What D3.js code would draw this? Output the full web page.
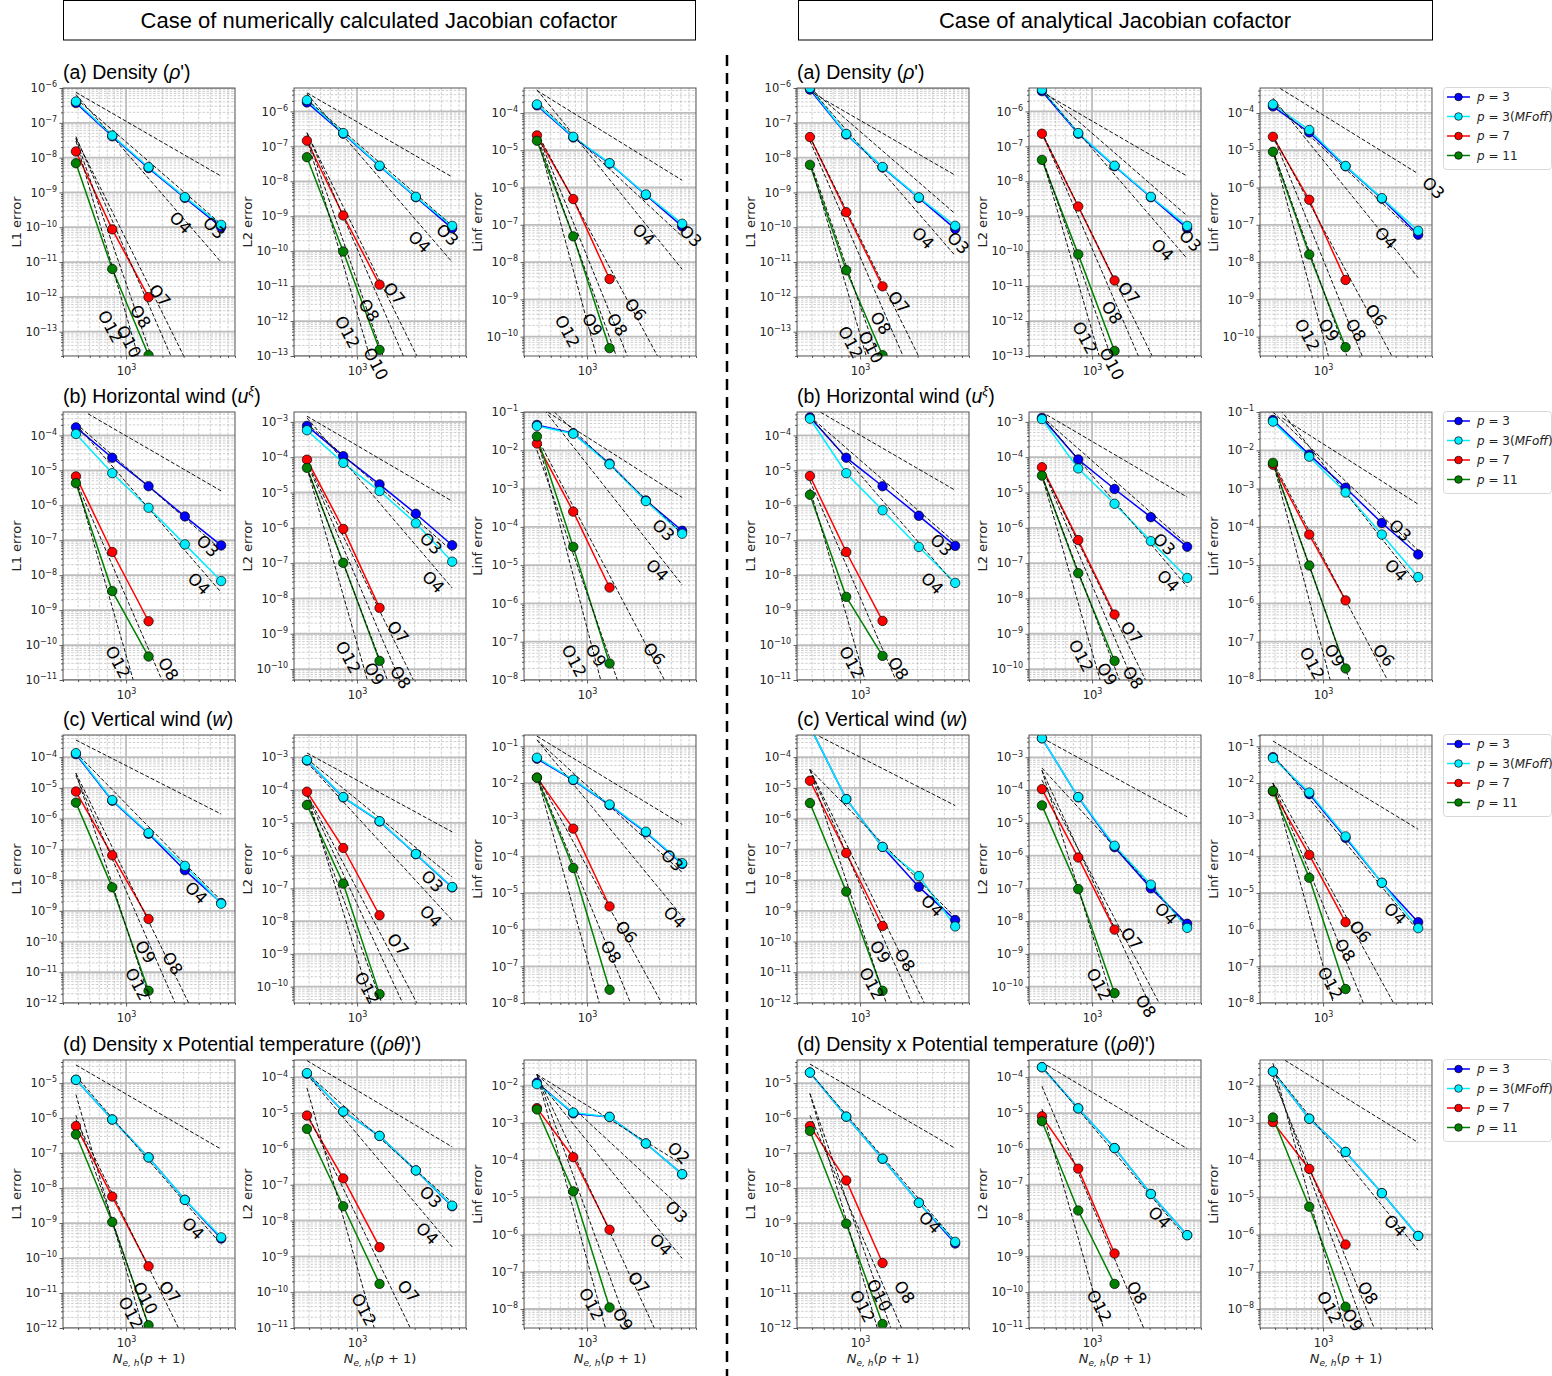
<!DOCTYPE html>
<html>
<head>
<meta charset="utf-8">
<script src="https://cdn.jsdelivr.net/npm/d3@7"></script>
<style>
  body { margin: 0; background: #fff; }
  svg { display: block; }
</style>
</head>
<body>
<script>
// x values: N_e,h (p+1), p=7 and p=11 use the first three
const neh = [384, 768, 1536, 3072, 6144];
const xLimits = [300, 8000];

const caseTitles = ["Case of numerically calculated Jacobian cofactor", "Case of analytical Jacobian cofactor"];
const normNames = ["L1 error", "L2 error", "Linf error"];

// log10 of [bottom, top], rows a-d x norms L1, L2, Linf (same in both cases)
const yLimits = [
  [-13.7, -6], [-13, -5.33], [-10.52, -3.33],
  [-11, -3.33], [-10.31, -2.72], [-8, -1],
  [-12, -3.28], [-10.5, -2.32], [-8, -0.69],
  [-12, -4.34], [-11, -3.52], [-8.51, -1.31]
];

// panel k = case*12 + row*3 + norm
const errP3 = [
  [3.7e-7, 4.1e-8, 5.0e-9, 7.0e-10, 1.0e-10],
  [1.8e-6, 2.3e-7, 2.7e-8, 3.5e-9, 4.5e-10],
  [1.6e-4, 2.2e-5, 4.4e-6, 6.3e-7, 9.1e-8],
  [1.7e-4, 2.3e-5, 3.5e-6, 4.8e-7, 7.1e-8],
  [7.7e-4, 1.07e-4, 1.7e-5, 2.5e-6, 3.2e-7],
  [4.6e-2, 2.8e-2, 4.5e-3, 4.9e-4, 7.9e-5],
  [1.25e-4, 3.8e-6, 3.2e-7, 2.1e-8, 1.8e-9],
  [7.9e-4, 6.0e-5, 1.1e-5, 1.1e-6, 1.07e-7],
  [4.6e-2, 1.2e-2, 2.5e-3, 4.5e-4, 6.2e-5],
  [1.24e-5, 9.1e-7, 7.5e-8, 4.6e-9, 3.6e-10],
  [1.25e-4, 1.1e-5, 2.3e-6, 2.5e-7, 2.5e-8],
  [1.2e-2, 1.8e-3, 1.45e-3, 2.8e-4, 4.2e-5],
  [9.0e-7, 4.6e-8, 5.2e-9, 7.0e-10, 9.0e-11],
  [3.8e-6, 2.3e-7, 2.7e-8, 3.5e-9, 4.5e-10],
  [1.5e-4, 3.0e-5, 3.7e-6, 5.0e-7, 5.4e-8],
  [3.3e-4, 2.3e-5, 3.5e-6, 5.0e-7, 6.9e-8],
  [1.3e-3, 8.6e-5, 1.26e-5, 2.0e-6, 2.9e-7],
  [6.2e-2, 7.7e-3, 1.05e-3, 1.26e-4, 1.9e-5],
  [1.0e-3, 4.3e-6, 1.2e-7, 6.0e-9, 5.0e-10],
  [3.8e-3, 6.0e-5, 1.8e-6, 1.0e-7, 8.3e-9],
  [5.1e-2, 5.0e-3, 3.2e-4, 1.9e-5, 1.6e-6],
  [2.0e-5, 1.1e-6, 6.9e-8, 3.8e-9, 2.6e-10],
  [1.9e-4, 1.35e-5, 1.05e-6, 5.5e-8, 3.9e-9],
  [2.4e-2, 1.3e-3, 1.66e-4, 1.3e-5, 9.2e-7]
];
const errP3MF = [
  [4.1e-7, 4.3e-8, 5.3e-9, 7.3e-10, 1.17e-10],
  [2.1e-6, 2.4e-7, 2.8e-8, 3.6e-9, 5.3e-10],
  [1.7e-4, 2.3e-5, 4.5e-6, 6.5e-7, 1.07e-7],
  [1.1e-4, 8.3e-6, 8.5e-7, 7.6e-8, 6.8e-9],
  [5.8e-4, 6.9e-5, 1.1e-5, 1.35e-6, 1.1e-7],
  [4.3e-2, 2.7e-2, 4.3e-3, 4.7e-4, 6.6e-5],
  [1.35e-4, 4.0e-6, 3.4e-7, 2.9e-8, 1.7e-9],
  [8.2e-4, 6.1e-5, 1.12e-5, 1.12e-6, 1.1e-7],
  [4.9e-2, 1.24e-2, 2.6e-3, 4.7e-4, 6.5e-5],
  [1.24e-5, 9.1e-7, 7.5e-8, 4.6e-9, 3.9e-10],
  [1.3e-4, 1.1e-5, 2.3e-6, 2.5e-7, 2.6e-8],
  [1.1e-2, 1.9e-3, 1.45e-3, 2.8e-4, 4.2e-5],
  [1.0e-6, 4.8e-8, 5.4e-9, 7.2e-10, 1.1e-10],
  [4.2e-6, 2.4e-7, 2.8e-8, 3.6e-9, 5.3e-10],
  [1.7e-4, 3.5e-5, 3.8e-6, 5.2e-7, 6.9e-8],
  [3.0e-4, 8.3e-6, 7.2e-7, 6.4e-8, 6.0e-9],
  [1.2e-3, 4.8e-5, 4.8e-6, 4.2e-7, 3.8e-8],
  [5.6e-2, 6.8e-3, 7.9e-4, 6.3e-5, 4.9e-6],
  [1.0e-3, 4.3e-6, 1.2e-7, 1.35e-8, 3.1e-10],
  [3.8e-3, 6.1e-5, 2.0e-6, 1.3e-7, 6.2e-9],
  [4.8e-2, 5.5e-3, 3.5e-4, 1.9e-5, 1.1e-6],
  [2.0e-5, 1.1e-6, 6.9e-8, 3.8e-9, 2.9e-10],
  [1.9e-4, 1.35e-5, 1.05e-6, 5.5e-8, 3.9e-9],
  [2.4e-2, 1.3e-3, 1.66e-4, 1.3e-5, 9.2e-7]
];
const errP7 = [
  [1.5e-8, 8.7e-11, 9.8e-13], [1.45e-7, 1.05e-9, 1.1e-11], [2.5e-5, 4.9e-7, 3.5e-9],
  [6.7e-6, 4.6e-8, 4.8e-10], [8.5e-5, 9.3e-7, 5.4e-9], [1.5e-2, 2.5e-4, 2.6e-6],
  [7.6e-6, 6.4e-8, 5.4e-10], [8.9e-5, 1.7e-6, 1.5e-8], [1.4e-2, 5.7e-4, 4.3e-6],
  [5.9e-7, 5.7e-9, 5.8e-11], [8.5e-6, 1.5e-7, 1.8e-9], [2.5e-3, 1.2e-4, 1.35e-6],
  [3.9e-8, 2.7e-10, 2.0e-12], [2.3e-7, 1.9e-9, 1.45e-11], [2.3e-5, 4.7e-7, 3.3e-9],
  [6.9e-6, 4.6e-8, 4.9e-10], [5.2e-5, 4.5e-7, 3.5e-9], [4.2e-3, 6.3e-5, 1.2e-6],
  [1.7e-5, 7.6e-8, 3.2e-10], [1.07e-4, 8.7e-7, 5.5e-9], [5.9e-3, 1.1e-4, 1.6e-6],
  [5.9e-7, 1.65e-8, 7.2e-11], [8.1e-6, 2.8e-7, 1.2e-9], [1.05e-3, 5.8e-5, 5.4e-7]
];
const errP11 = [
  [6.9e-9, 6.3e-12, 2.1e-14], [4.9e-8, 9.8e-11, 1.5e-13], [1.8e-5, 4.9e-8, 4.9e-11],
  [4.3e-6, 3.5e-9, 4.7e-11], [5.0e-5, 1.02e-7, 1.7e-10], [2.3e-2, 3.0e-5, 2.7e-8],
  [3.3e-6, 5.8e-9, 2.5e-12], [3.5e-5, 1.4e-7, 5.9e-11], [1.4e-2, 4.8e-5, 2.3e-8],
  [3.4e-7, 1.07e-9, 1.2e-12], [3.6e-6, 2.5e-8, 1.7e-10], [2.3e-3, 1.45e-5, 1.1e-8],
  [6.2e-9, 5.8e-12, 2.1e-14], [4.1e-8, 8.1e-11, 1.4e-13], [9.1e-6, 1.6e-8, 5.2e-11],
  [2.0e-6, 2.4e-9, 4.9e-11], [3.0e-5, 5.2e-8, 1.7e-10], [4.7e-3, 9.8e-6, 2.0e-8],
  [3.2e-6, 4.2e-9, 2.5e-12], [3.4e-5, 9.5e-8, 6.3e-11], [6.1e-3, 2.6e-5, 2.4e-8],
  [4.3e-7, 9.6e-10, 1.3e-12], [5.9e-6, 1.9e-8, 1.7e-10], [1.4e-3, 5.6e-6, 1.15e-8]
];

// order guide lines: [order, value at x=384, optional start x]
const refLines = [
  [[2, 7.5e-7], [3, 5e-7], [4, 6.5e-7], [7, 3.6e-8], [8, 4e-8], [10, 3.5e-8], [12, 3e-8]],
  [[2, 3.4e-6], [3, 2.2e-6], [4, 3.2e-6], [7, 2.4e-7], [8, 2.5e-7], [10, 2e-7], [12, 1.7e-7]],
  [[2, 4e-4], [3, 2e-4], [4, 4.2e-4], [6, 3e-5], [8, 3e-5], [9, 2.5e-5], [12, 2.5e-5]],
  [[2, 6.6e-4, 483], [3, 2.2e-4], [4, 2.1e-4], [8, 5e-6], [12, 5e-6]],
  [[2, 1.45e-3], [3, 9e-4], [4, 1.3e-3], [7, 7.4e-5], [8, 7e-5], [9, 5e-5], [12, 5e-5]],
  [[2, 0.15, 473], [3, 0.27], [4, 0.2], [6, 2.2e-2], [9, 1e-2], [12, 2.2e-2]],
  [[2, 3.6e-4], [4, 1.4e-4], [8, 3e-5], [9, 2.5e-5], [12, 3e-5]],
  [[2, 1.35e-3], [3, 9e-4], [4, 7e-4], [7, 7.6e-5], [8, 7e-5], [10, 5e-5], [12, 7.6e-5]],
  [[2, 0.19], [3, 0.15], [4, 0.15], [6, 1.6e-2], [8, 1.6e-2], [12, 1.6e-2]],
  [[2, 3.3e-5], [4, 1.6e-5], [7, 9e-7], [10, 1.2e-6], [12, 4.7e-6]],
  [[2, 2.9e-4], [3, 1.3e-4], [4, 1.2e-4], [7, 1e-5], [12, 5e-5]],
  [[2, 2e-2], [3, 2e-2], [4, 1.5e-2], [7, 2e-2], [9, 2e-2], [12, 2e-2]],
  [[2, 8e-7], [3, 1e-6], [4, 1e-6], [7, 4e-8], [8, 3e-8], [10, 8e-9], [12, 8e-9]],
  [[2, 3.6e-6], [3, 4.2e-6], [4, 4e-6], [7, 2.5e-7], [8, 2.5e-7], [10, 5e-8], [12, 5e-8]],
  [[2, 6e-4, 440], [3, 2e-4], [4, 2.5e-4], [6, 2.5e-5], [8, 2.5e-5], [9, 1e-5], [12, 1e-5]],
  [[2, 6.9e-4, 470], [3, 3.5e-4], [4, 3.5e-4], [8, 5e-6], [12, 3e-6]],
  [[2, 1.9e-3, 420], [3, 1.4e-3], [4, 1.4e-3], [7, 5e-5], [8, 5e-5], [9, 3e-5], [12, 3e-5]],
  [[2, 0.1, 460], [3, 0.1], [4, 0.2], [6, 5e-3], [9, 5e-3], [12, 5e-3]],
  [[2, 6.8e-4, 460], [4, 4e-5], [8, 3.9e-5], [9, 3.9e-5], [12, 3.9e-5]],
  [[2, 3.9e-3], [4, 4.7e-4], [7, 2e-4], [8, 4e-4], [12, 4e-4]],
  [[2, 0.14], [4, 6e-2], [6, 1e-2], [8, 1e-2], [12, 1e-2]],
  [[2, 3.5e-5], [4, 2e-5], [8, 1.2e-6], [10, 5e-6], [12, 5e-6]],
  [[2, 2.6e-4], [4, 2e-4], [8, 5.6e-5], [12, 1.3e-5]],
  [[2, 7.6e-2, 483], [4, 2.5e-2], [8, 1.6e-2], [9, 2e-2], [12, 4e-2]]
];

// order labels: [order, x, log10 y]
const refLabels = [
  [[4, 2818, -9.88], [3, 5343, -10.03], [7, 1890, -11.97], [8, 1310, -12.57], [10, 1047, -13.29], [12, 736, -12.86]],
  [[4, 3278, -9.74], [3, 5600, -9.54], [7, 2025, -11.22], [8, 1250, -11.7], [12, 826, -12.32], [10, 1425, -13.23]],
  [[4, 2940, -7.27], [3, 7200, -7.31], [6, 2510, -9.28], [8, 1770, -9.68], [9, 1100, -9.68], [12, 683, -9.86]],
  [[3, 4730, -7.17], [4, 4010, -8.25], [12, 850, -10.49], [8, 2230, -10.69]],
  [[3, 4080, -6.45], [4, 4270, -7.54], [7, 2170, -8.96], [12, 840, -9.67], [9, 1385, -10.14], [8, 2280, -10.24]],
  [[3, 4280, -4.09], [4, 3800, -5.14], [12, 775, -7.5], [9, 1180, -7.36], [6, 3580, -7.32]],
  [[4, 3800, -8.42], [9, 1440, -10.34], [8, 2420, -10.72], [12, 1240, -11.39]],
  [[3, 4190, -6.79], [4, 4070, -7.86], [7, 2170, -8.72], [12, 1205, -10.05]],
  [[3, 5060, -4.11], [4, 5300, -5.67], [6, 2100, -6.07], [8, 1570, -6.61]],
  [[4, 3580, -9.16], [10, 1435, -11.15], [7, 2290, -10.98], [12, 1090, -11.57]],
  [[3, 4050, -7.35], [4, 3800, -8.37], [7, 2650, -9.98], [12, 1130, -10.49]],
  [[2, 5720, -3.81], [3, 5480, -5.4], [4, 4070, -6.28], [7, 2670, -7.3], [12, 1080, -7.87], [9, 1970, -8.28]],
  [[4, 3314, -10.32], [3, 6500, -10.46], [7, 2080, -12.16], [8, 1475, -12.76], [12, 830, -13.31], [10, 1220, -13.45]],
  [[4, 3810, -9.97], [3, 6500, -9.71], [7, 2010, -11.2], [8, 1450, -11.76], [12, 865, -12.48], [10, 1450, -13.23]],
  [[3, 8200, -6.02], [4, 3300, -7.36], [6, 2730, -9.43], [12, 735, -9.96], [9, 1110, -9.83], [8, 1860, -9.83]],
  [[3, 4700, -7.14], [4, 3950, -8.24], [12, 845, -10.5], [8, 2065, -10.67]],
  [[3, 3950, -6.47], [4, 4250, -7.51], [7, 2110, -8.97], [12, 805, -9.63], [9, 1325, -10.15], [8, 2170, -10.25]],
  [[3, 4340, -4.1], [4, 4010, -5.14], [12, 805, -7.57], [9, 1240, -7.36], [6, 3170, -7.36]],
  [[4, 3940, -8.84], [9, 1460, -10.34], [8, 2340, -10.61], [12, 1240, -11.37]],
  [[4, 4080, -7.78], [7, 2110, -8.54], [12, 1130, -9.93], [8, 2780, -10.6]],
  [[4, 3940, -5.57], [6, 2020, -6.06], [8, 1510, -6.56], [12, 1140, -7.46]],
  [[4, 3780, -8.99], [8, 2320, -10.98], [10, 1430, -11.07], [12, 1040, -11.38]],
  [[4, 3600, -7.92], [8, 2340, -10.02], [12, 1140, -10.39]],
  [[4, 3940, -5.77], [8, 2340, -7.57], [12, 1120, -7.96], [9, 1750, -8.3]]
];

const rowTitles = [
  [["(a) Density (", 0], ["ρ", 1], ["')", 0]],
  [["(b) Horizontal wind (", 0], ["u", 1], ["ξ", 2], [")", 0]],
  [["(c) Vertical wind (", 0], ["w", 1], [")", 0]],
  [["(d) Density x Potential temperature ((", 0], ["ρθ", 1], [")')", 0]]
];
const legendTexts = [
  [["p", 1], [" = 3", 0]],
  [["p", 1], [" = 3(", 0], ["MFoff", 1], [")", 0]],
  [["p", 1], [" = 7", 0]],
  [["p", 1], [" = 11", 0]]
];

// ---------- layout ----------
const w = 1552, h = 1376;
const colLeft = [63, 294, 524, 797, 1029, 1260];
const rowTop = [88, 412, 735, 1060];
const pw = 172, ph = 268;
const colors = ["#0000ff", "#00ecff", "#ff0000", "#008000"];
const tickFont = "DejaVu Sans, Verdana, sans-serif";
const titleFont = "Liberation Sans, Arial, Helvetica, sans-serif";

const svg = d3.select("body").append("svg").attr("width", w).attr("height", h);

// header boxes
[[63, 695], [798, 1432]].forEach(function (b, i) {
  svg.append("rect").attr("x", b[0] + 0.5).attr("y", 0.5).attr("width", b[1] - b[0])
    .attr("height", 39.5).attr("fill", "#fff").attr("stroke", "#000").attr("stroke-width", 1);
  svg.append("text").attr("x", (b[0] + b[1]) / 2).attr("y", 28).attr("text-anchor", "middle")
    .attr("font-family", titleFont).attr("font-size", 22).text(caseTitles[i]);
});

// dashed divider
svg.append("line").attr("x1", 727).attr("x2", 727).attr("y1", 55).attr("y2", h)
  .attr("stroke", "#000").attr("stroke-width", 2.5).attr("stroke-dasharray", "11,7");

function richText(sel, parts, baseSize) {
  parts.forEach(function (p) {
    const t = sel.append("tspan").text(p[0]);
    if (p[1] === 1) t.attr("font-style", "italic");
  });
}

// row titles
for (let c = 0; c < 2; c++) {
  for (let r = 0; r < 4; r++) {
    const t = svg.append("text").attr("x", colLeft[c * 3]).attr("y", rowTop[r] - 9)
      .attr("font-family", titleFont).attr("font-size", 19.5);
    rowTitles[r].forEach(function (p, i) {
      const ts = t.append("tspan").text(p[0]);
      if (p[1] === 1) ts.attr("font-style", "italic");
      if (p[1] === 2) ts.attr("font-style", "italic").attr("font-size", 13).attr("dy", -8);
      if (i > 0 && rowTitles[r][i - 1][1] === 2) ts.attr("dy", 8);
    });
  }
}

function powLabel(sel, e) {
  sel.text(null);
  sel.append("tspan").text("10");
  sel.append("tspan").attr("dy", "-0.6em").attr("font-size", 8).text(e < 0 ? "\u2212" + (-e) : String(e));
}

function labelAngle(order) {
  if (order <= 4) return 45;
  if (order <= 7) return 50;
  if (order <= 9) return 58;
  return 62;
}

function drawPanel(k) {
  const c = Math.floor(k / 12), r = Math.floor((k % 12) / 3), n = k % 3;
  const lim = yLimits[r * 3 + n];
  const x = d3.scaleLog().domain(xLimits).range([0, pw]);
  const y = d3.scaleLog().domain([Math.pow(10, lim[0]), Math.pow(10, lim[1])]).range([ph, 0]);
  const g = svg.append("g").attr("transform", `translate(${colLeft[c * 3 + n]},${rowTop[r]})`);

  g.append("clipPath").attr("id", "clip" + k).append("rect").attr("width", pw).attr("height", ph);
  const plot = g.append("g").attr("clip-path", `url(#clip${k})`);

  // tick values
  const yMajor = [], yMinor = [];
  for (let e = Math.floor(lim[0]); e <= Math.ceil(lim[1]); e++) {
    const v = Math.pow(10, e);
    if (e >= lim[0] - 1e-6 && e <= lim[1] + 1e-6) yMajor.push(v);
    for (let m = 2; m < 10; m++) {
      const mv = m * v;
      if (Math.log10(mv) > lim[0] && Math.log10(mv) < lim[1]) yMinor.push(mv);
    }
  }
  const xAll = x.ticks();
  const xMajor = xAll.filter(v => Math.abs(Math.log10(v) - Math.round(Math.log10(v))) < 1e-9);
  const xMinor = xAll.filter(v => xMajor.indexOf(v) < 0);

  // grid
  plot.selectAll(".gxm").data(xMinor).enter().append("line")
    .attr("x1", d => x(d)).attr("x2", d => x(d)).attr("y1", 0).attr("y2", ph)
    .attr("stroke", "#adadad").attr("stroke-width", 0.6).attr("stroke-dasharray", "2.5,1.6");
  plot.selectAll(".gym").data(yMinor).enter().append("line")
    .attr("x1", 0).attr("x2", pw).attr("y1", d => y(d)).attr("y2", d => y(d))
    .attr("stroke", "#adadad").attr("stroke-width", 0.6).attr("stroke-dasharray", "2.5,1.6");
  plot.selectAll(".gxM").data(xMajor).enter().append("line")
    .attr("x1", d => x(d)).attr("x2", d => x(d)).attr("y1", 0).attr("y2", ph)
    .attr("stroke", "#bdbdbd").attr("stroke-width", 1.8);
  plot.selectAll(".gyM").data(yMajor).enter().append("line")
    .attr("x1", 0).attr("x2", pw).attr("y1", d => y(d)).attr("y2", d => y(d))
    .attr("stroke", "#bdbdbd").attr("stroke-width", 1.8);

  // series
  const series = [errP3[k], errP3MF[k], errP7[k], errP11[k]].map(vals => vals.map((v, i) => [neh[i], v]));
  const line = d3.line().x(d => x(d[0])).y(d => y(d[1]));
  series.forEach(function (s, i) {
    plot.append("path").attr("d", line(s)).attr("fill", "none")
      .attr("stroke", colors[i]).attr("stroke-width", 1.5);
  });

  // order guides
  refLines[k].forEach(function (rl) {
    const x0 = rl[2] || neh[0], x1 = neh[4];
    const pts = [[x0, rl[1] * Math.pow(x0 / neh[0], -rl[0])], [x1, rl[1] * Math.pow(x1 / neh[0], -rl[0])]];
    plot.append("path").attr("d", line(pts)).attr("fill", "none")
      .attr("stroke", "#111").attr("stroke-width", 1).attr("stroke-dasharray", "4,2");
  });

  // markers
  series.forEach(function (s, i) {
    plot.selectAll(".m" + i).data(s).enter().append("circle")
      .attr("cx", d => x(d[0])).attr("cy", d => y(d[1])).attr("r", 4.7)
      .attr("fill", colors[i]).attr("stroke", "#000").attr("stroke-width", 0.7);
  });

  // frame
  g.append("rect").attr("width", pw).attr("height", ph).attr("fill", "none")
    .attr("stroke", "#555").attr("stroke-width", 1);

  // axes
  const ay = g.append("g").call(d3.axisLeft(y).tickValues(yMajor).tickSize(3.5).tickPadding(2.5));
  ay.select(".domain").remove();
  ay.selectAll("text").attr("font-family", tickFont).attr("font-size", 11.5).attr("fill", "#222")
    .each(function (d) { powLabel(d3.select(this), Math.round(Math.log10(d))); });
  const ayMin = g.append("g").call(d3.axisLeft(y).tickValues(yMinor).tickSize(2).tickFormat(""));
  ayMin.select(".domain").remove();

  const ax = g.append("g").attr("transform", `translate(0,${ph})`)
    .call(d3.axisBottom(x).tickValues(xMajor).tickSize(3.5).tickPadding(3));
  ax.select(".domain").remove();
  ax.selectAll("text").attr("font-family", tickFont).attr("font-size", 11.5).attr("fill", "#222")
    .attr("dy", "1.05em")
    .each(function (d) { powLabel(d3.select(this), Math.round(Math.log10(d))); });
  const axMin = g.append("g").attr("transform", `translate(0,${ph})`)
    .call(d3.axisBottom(x).tickValues(xMinor).tickSize(2).tickFormat(""));
  axMin.select(".domain").remove();
  g.selectAll(".tick line").attr("stroke", "#333").attr("stroke-width", 0.8);

  // y label
  g.append("text").attr("transform", `translate(-47,${ph / 2}) rotate(-90)`)
    .attr("text-anchor", "middle").attr("dominant-baseline", "central")
    .attr("font-family", tickFont).attr("font-size", 13).attr("fill", "#222").text(normNames[n]);

  // x label on the last row
  if (r === 3) {
    const t = g.append("text").attr("x", pw / 2).attr("y", ph + 35).attr("text-anchor", "middle")
      .attr("font-family", tickFont).attr("font-size", 13).attr("fill", "#222");
    t.append("tspan").attr("font-style", "italic").text("N");
    t.append("tspan").attr("font-style", "italic").attr("font-size", 9).attr("dy", 3).text("e, h");
    t.append("tspan").attr("dy", -3).text("(");
    t.append("tspan").attr("font-style", "italic").text("p");
    t.append("tspan").text(" + 1)");
  }

  // order labels
  refLabels[k].forEach(function (lb) {
    const px = x(lb[1]), py = y(Math.pow(10, lb[2]));
    g.append("text").attr("transform", `translate(${px},${py}) rotate(${labelAngle(lb[0])})`)
      .attr("text-anchor", "middle").attr("dominant-baseline", "central")
      .attr("font-family", tickFont).attr("font-size", 16.5).attr("fill", "#000").text("O" + lb[0]);
  });
}

for (let k = 0; k < 24; k++) drawPanel(k);

// legends (right of the analytical case)
rowTop.forEach(function (top) {
  const lg = svg.append("g").attr("transform", `translate(1443,${top - 1})`);
  lg.append("rect").attr("x", 0.5).attr("y", 0.5).attr("width", 108).attr("height", 82).attr("rx", 3)
    .attr("fill", "#fff").attr("stroke", "#d8d8d8").attr("stroke-width", 1);
  legendTexts.forEach(function (parts, i) {
    const yy = 10 + i * 19.5;
    lg.append("line").attr("x1", 4).attr("x2", 27).attr("y1", yy).attr("y2", yy)
      .attr("stroke", colors[i]).attr("stroke-width", 1.5);
    lg.append("circle").attr("cx", 15.5).attr("cy", yy).attr("r", 3.8)
      .attr("fill", colors[i]).attr("stroke", "#000").attr("stroke-width", 0.7);
    const t = lg.append("text").attr("x", 34).attr("y", yy).attr("dominant-baseline", "central")
      .attr("font-family", tickFont).attr("font-size", 12).attr("fill", "#222");
    richText(t, parts, 12);
  });
});
</script>
</body>
</html>
